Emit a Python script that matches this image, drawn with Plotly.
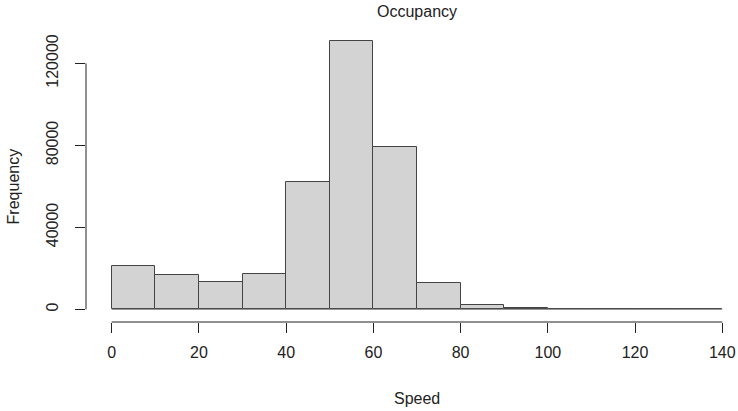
import plotly.graph_objects as go

# Histogram of speeds: 10-unit bins from 0 to 140
bin_edges = [0, 10, 20, 30, 40, 50, 60, 70, 80, 90, 100, 110, 120, 130, 140]
counts = [21200, 16700, 13300, 17200, 62000, 131000, 79400, 12800, 2200, 500, 0, 0, 0, 0]

x_ticks = [0, 20, 40, 60, 80, 100, 120, 140]
y_ticks = [0, 40000, 80000, 120000]

title_text = "Occupancy"
x_title = "Speed"
y_title = "Frequency"

FONT = "Liberation Sans, Arial, sans-serif"
INK = "#222222"
EDGE = "#444444"

centers = [(a + b) / 2 for a, b in zip(bin_edges[:-1], bin_edges[1:])]
widths = [b - a for a, b in zip(bin_edges[:-1], bin_edges[1:])]

fig = go.Figure()

# baseline under all bins (empty bins show as a flat outline)
fig.add_trace(go.Scatter(
    x=[bin_edges[0], bin_edges[-1]], y=[0, 0], mode="lines",
    line=dict(color="#8a8a8a", width=1), hoverinfo="skip", showlegend=False,
))

fig.add_trace(go.Bar(
    x=centers, y=counts, width=widths,
    marker=dict(color="#D3D3D3", line=dict(color=EDGE, width=1)),
    showlegend=False,
))

W, H = 738, 411
ml, mr, mt, mb = 86, 0, 30, 89
plot_w = W - ml - mr
plot_h = H - mt - mb

# pixel scale: 0 -> 111.7 px, 140 -> 722.3 px
px_per_x = (722.3 - 111.7) / (x_ticks[-1] - x_ticks[0])
x_lo = x_ticks[0] - (111.7 - ml) / px_per_x
x_hi = x_ticks[-1] + (W - mr - 722.3) / px_per_x

# 0 -> 309.4 px, 120000 -> 63.4 px
px_per_y = (309.4 - 63.4) / (y_ticks[-1] - y_ticks[0])
y_lo = -((H - mb) - 309.4) / px_per_y
y_hi = (309.4 - mt) / px_per_y

fig.update_layout(
    width=W, height=H,
    margin=dict(l=ml, r=mr, t=mt, b=mb, autoexpand=False),
    paper_bgcolor="white", plot_bgcolor="white",
    bargap=0,
    font=dict(family=FONT, size=16, color=INK),
    xaxis=dict(
        range=[x_lo, x_hi], showgrid=False, zeroline=False, showline=False,
        tickmode="array", tickvals=x_ticks, ticktext=[str(v) for v in x_ticks],
        ticks="outside", ticklen=10, tickwidth=1, tickcolor=INK,
        tickfont=dict(size=16, color=INK), ticklabelstandoff=6,
    ),
    yaxis=dict(
        range=[y_lo, y_hi], showgrid=False, zeroline=False, showline=False,
        tickmode="array", tickvals=y_ticks, ticktext=[str(v) for v in y_ticks],
        ticks="outside", ticklen=10, tickwidth=1, tickcolor=INK,
        tickangle=-90, tickfont=dict(size=16, color=INK), ticklabelstandoff=11,
    ),
)

# axis lines spanning only the first to last tick
fig.add_shape(type="line", xref="x", yref="paper",
              x0=x_ticks[0], x1=x_ticks[-1], y0=0, y1=0,
              line=dict(color=INK, width=1))
fig.add_shape(type="line", xref="paper", yref="y",
              x0=0, x1=0, y0=y_ticks[0], y1=y_ticks[-1],
              line=dict(color=INK, width=1))

x_mid = (bin_edges[0] + bin_edges[-1]) / 2
fig.add_annotation(text=title_text, xref="x", yref="paper", x=x_mid,
                   y=1 + (mt - 12) / plot_h, yanchor="middle", showarrow=False,
                   font=dict(size=16, color=INK))
fig.add_annotation(text=x_title, xref="x", yref="paper", x=x_mid,
                   y=-(398 - (H - mb)) / plot_h, yanchor="middle", showarrow=False,
                   font=dict(size=16, color=INK))
fig.add_annotation(text=y_title, xref="paper", yref="y", x=(13 - ml) / plot_w,
                   y=(y_ticks[0] + y_ticks[-1]) / 2, xanchor="center", yanchor="middle",
                   textangle=-90, showarrow=False, font=dict(size=16, color=INK))

fig.write_html("out.html")
